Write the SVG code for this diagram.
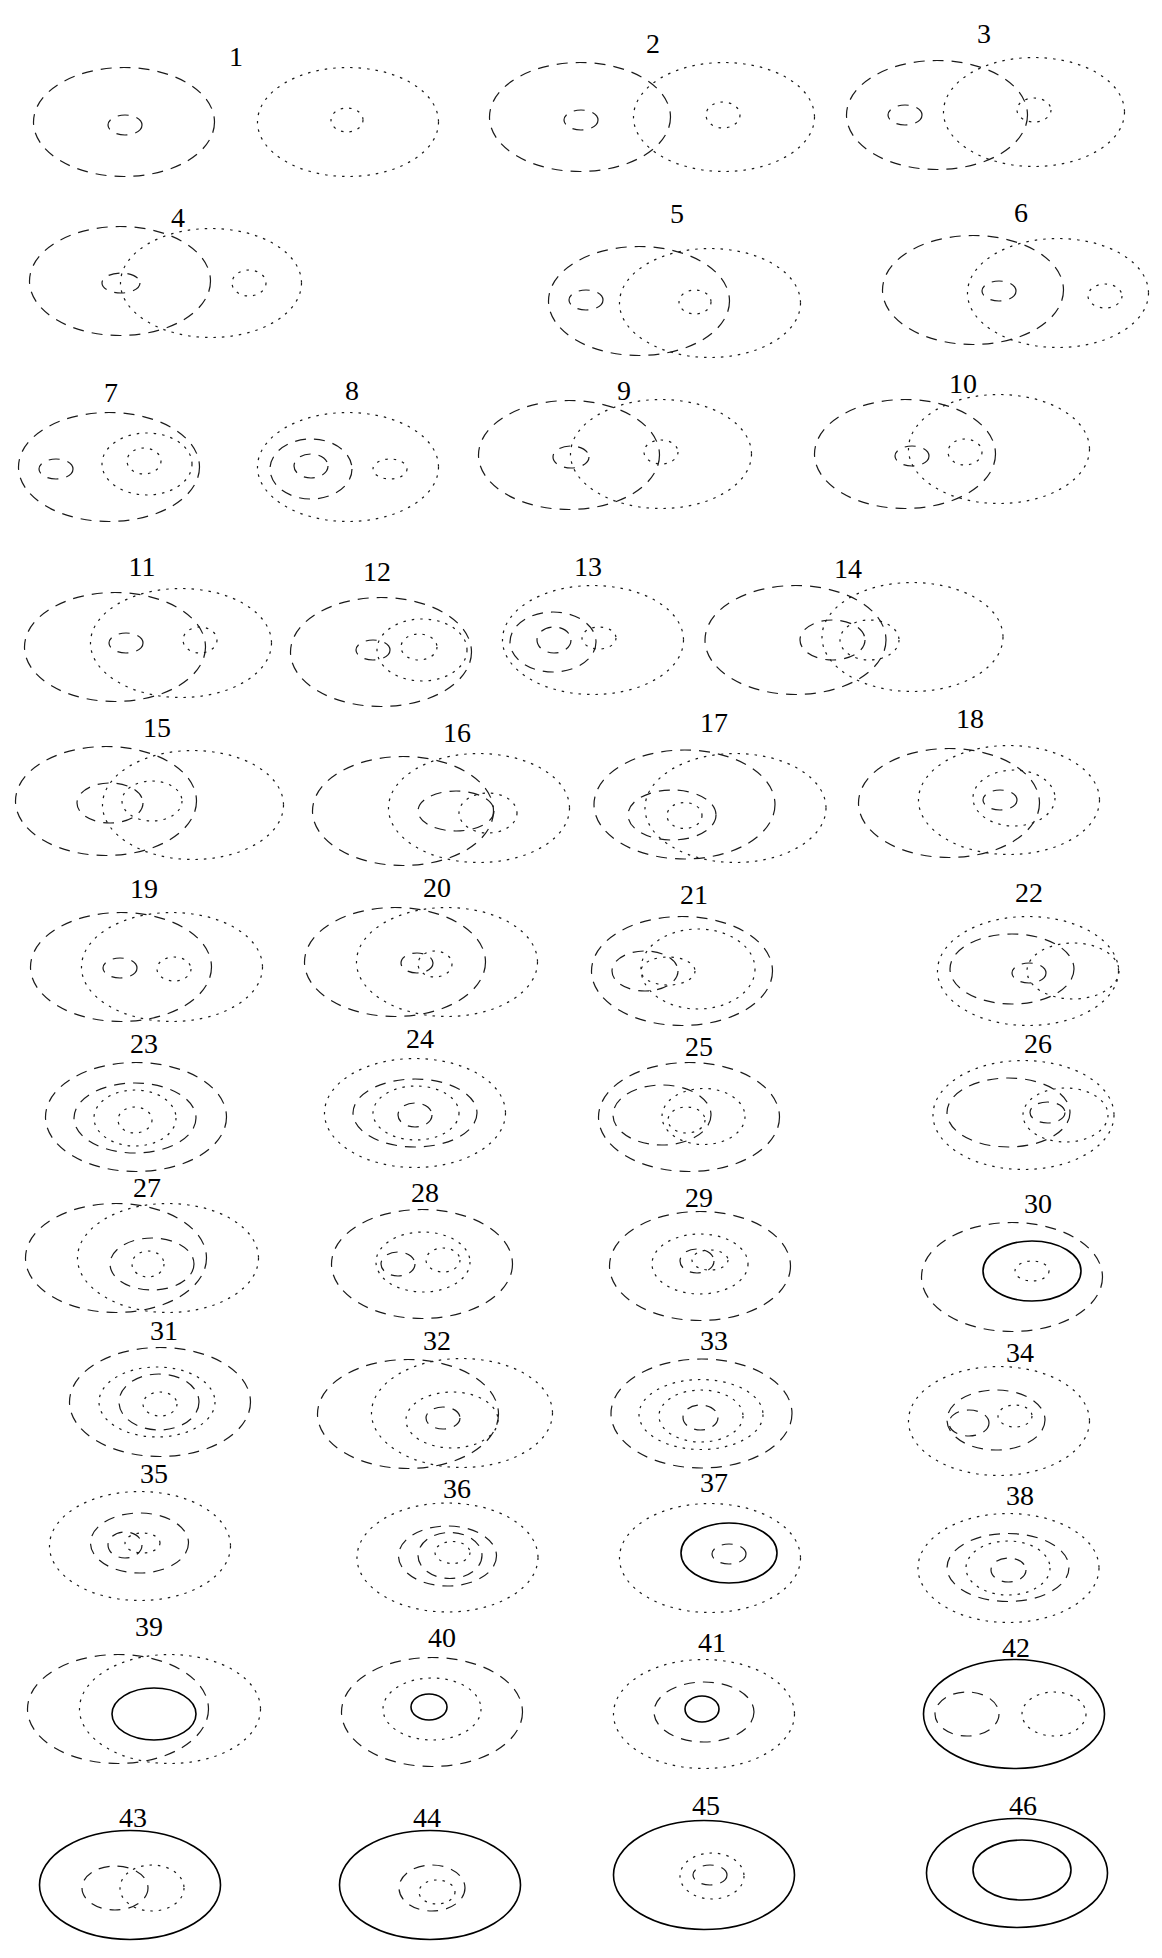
<svg xmlns="http://www.w3.org/2000/svg" width="1162" height="1958" viewBox="0 0 1162 1958">
<style>
ellipse{fill:none;stroke:#1a1a1a;stroke-width:1.2}
.d{stroke-dasharray:11,8}
.t{stroke-dasharray:2.5,6}
.s{stroke:#000;stroke-width:1.6}
text{font-family:"Liberation Serif","Times New Roman",serif;font-size:28px;text-anchor:middle;fill:#000}
</style>
<rect width="1162" height="1958" fill="#fff"/>
<g id="d1"><text x="236" y="66">1</text>
<ellipse class="d" cx="124" cy="122" rx="90.5" ry="54.5"/><ellipse class="d" cx="125" cy="125" rx="17" ry="10"/>
<ellipse class="t" cx="348" cy="122" rx="90.5" ry="54.5"/><ellipse class="t" cx="347" cy="120" rx="16" ry="12"/></g>
<g id="d2"><text x="653" y="53">2</text>
<ellipse class="d" cx="580" cy="117" rx="90.5" ry="54.5"/><ellipse class="d" cx="581" cy="120" rx="17" ry="10"/>
<ellipse class="t" cx="724" cy="117" rx="90.5" ry="54.5"/><ellipse class="t" cx="723" cy="115" rx="17" ry="13"/></g>
<g id="d3"><text x="984" y="43">3</text>
<ellipse class="d" cx="937" cy="115" rx="90.5" ry="54.5"/><ellipse class="d" cx="905" cy="115" rx="17" ry="10"/>
<ellipse class="t" cx="1034" cy="112" rx="90.5" ry="54.5"/><ellipse class="t" cx="1034" cy="110" rx="17" ry="12"/></g>
<g id="d4"><text x="178" y="227">4</text>
<ellipse class="d" cx="120" cy="281" rx="90.5" ry="54.5"/><ellipse class="d" cx="121" cy="283" rx="19" ry="10"/>
<ellipse class="t" cx="211" cy="283" rx="90.5" ry="54.5"/><ellipse class="t" cx="249" cy="283" rx="17" ry="13"/></g>
<g id="d5"><text x="677" y="223">5</text>
<ellipse class="d" cx="639" cy="301" rx="90.5" ry="54.5"/><ellipse class="d" cx="586" cy="300" rx="17" ry="10"/>
<ellipse class="t" cx="710" cy="303" rx="90.5" ry="54.5"/><ellipse class="t" cx="695" cy="302" rx="16" ry="12"/></g>
<g id="d6"><text x="1021" y="222">6</text>
<ellipse class="d" cx="973" cy="290" rx="90.5" ry="54.5"/><ellipse class="d" cx="999" cy="291" rx="17" ry="10"/>
<ellipse class="t" cx="1058" cy="293" rx="90.5" ry="54.5"/><ellipse class="t" cx="1105" cy="296" rx="17" ry="12"/></g>
<g id="d7"><text x="111" y="402">7</text>
<ellipse class="d" cx="109" cy="467" rx="90.5" ry="54.5"/><ellipse class="d" cx="56" cy="469" rx="17" ry="10"/>
<ellipse class="t" cx="147" cy="464" rx="45" ry="31"/><ellipse class="t" cx="144" cy="461" rx="17" ry="13"/></g>
<g id="d8"><text x="352" y="400">8</text>
<ellipse class="t" cx="348" cy="467" rx="90.5" ry="54.5"/><ellipse class="d" cx="311" cy="469" rx="41" ry="30"/>
<ellipse class="d" cx="311" cy="466" rx="17" ry="12"/><ellipse class="t" cx="390" cy="469" rx="17" ry="10"/></g>
<g id="d9"><text x="624" y="400">9</text>
<ellipse class="d" cx="569" cy="455" rx="90.5" ry="54.5"/><ellipse class="t" cx="661" cy="454" rx="90.5" ry="54.5"/>
<ellipse class="d" cx="571" cy="457" rx="18" ry="11"/><ellipse class="t" cx="661" cy="452" rx="17" ry="12"/></g>
<g id="d10"><text x="963" y="393">10</text>
<ellipse class="d" cx="905" cy="454" rx="90.5" ry="54.5"/><ellipse class="t" cx="999" cy="449" rx="90.5" ry="54.5"/>
<ellipse class="d" cx="912" cy="456" rx="17" ry="10"/><ellipse class="t" cx="965" cy="452" rx="17" ry="13"/></g>
<g id="d11"><text x="142" y="576">11</text>
<ellipse class="d" cx="115" cy="647" rx="90.5" ry="54.5"/><ellipse class="t" cx="181" cy="643" rx="90.5" ry="54.5"/>
<ellipse class="d" cx="126" cy="643" rx="17" ry="10"/><ellipse class="t" cx="200" cy="640" rx="17" ry="13"/></g>
<g id="d12"><text x="377" y="581">12</text>
<ellipse class="d" cx="381" cy="652" rx="90.5" ry="54.5"/><ellipse class="t" cx="422" cy="650" rx="45" ry="31"/>
<ellipse class="d" cx="373" cy="650" rx="17" ry="10"/><ellipse class="t" cx="419" cy="647" rx="18" ry="13"/></g>
<g id="d13"><text x="588" y="576">13</text>
<ellipse class="t" cx="593" cy="640" rx="90.5" ry="54.5"/><ellipse class="d" cx="553" cy="642" rx="43" ry="30"/>
<ellipse class="d" cx="554" cy="640" rx="17" ry="13"/><ellipse class="t" cx="599" cy="638" rx="17" ry="11"/></g>
<g id="d14"><text x="848" y="578">14</text>
<ellipse class="d" cx="795.5" cy="640" rx="90.5" ry="54.5"/><ellipse class="t" cx="912.5" cy="637" rx="90.5" ry="54.5"/>
<ellipse class="d" cx="832.5" cy="640" rx="32.5" ry="20"/><ellipse class="t" cx="869.5" cy="640" rx="29.5" ry="20"/></g>
<g id="d15"><text x="157" y="737">15</text>
<ellipse class="d" cx="106" cy="801" rx="90.5" ry="54.5"/><ellipse class="t" cx="193" cy="805" rx="90.5" ry="54.5"/>
<ellipse class="d" cx="110" cy="803" rx="33" ry="20"/><ellipse class="t" cx="152" cy="801" rx="30" ry="20"/></g>
<g id="d16"><text x="457" y="742">16</text>
<ellipse class="d" cx="403" cy="811" rx="90.5" ry="54.5"/><ellipse class="t" cx="479" cy="808" rx="90.5" ry="54.5"/>
<ellipse class="d" cx="456" cy="811" rx="38" ry="20"/><ellipse class="t" cx="488" cy="813" rx="29" ry="20"/></g>
<g id="d17"><text x="714" y="732">17</text>
<ellipse class="d" cx="684.5" cy="804.5" rx="90.5" ry="54.5"/><ellipse class="t" cx="735.5" cy="808" rx="90.5" ry="54.5"/>
<ellipse class="d" cx="672" cy="815" rx="44" ry="25"/><ellipse class="t" cx="684.5" cy="815.5" rx="17.5" ry="13"/></g>
<g id="d18"><text x="970" y="728">18</text>
<ellipse class="d" cx="949" cy="803" rx="90.5" ry="54.5"/><ellipse class="t" cx="1009" cy="800" rx="90.5" ry="54.5"/>
<ellipse class="t" cx="1014" cy="798" rx="41" ry="28"/><ellipse class="d" cx="1000" cy="800" rx="17" ry="10"/></g>
<g id="d19"><text x="144" y="898">19</text>
<ellipse class="d" cx="121" cy="967" rx="90.5" ry="54.5"/><ellipse class="t" cx="172" cy="967" rx="90.5" ry="54.5"/>
<ellipse class="d" cx="120" cy="968" rx="17" ry="10"/><ellipse class="t" cx="174" cy="969" rx="17" ry="12"/></g>
<g id="d20"><text x="437" y="897">20</text>
<ellipse class="d" cx="395" cy="962" rx="90.5" ry="54.5"/><ellipse class="t" cx="447" cy="962" rx="90.5" ry="54.5"/>
<ellipse class="d" cx="417" cy="963" rx="16" ry="10"/><ellipse class="t" cx="435" cy="964" rx="17" ry="13"/></g>
<g id="d21"><text x="694" y="904">21</text>
<ellipse class="d" cx="682" cy="971" rx="90.5" ry="54.5"/><ellipse class="t" cx="698" cy="969" rx="57" ry="40"/>
<ellipse class="d" cx="645" cy="971" rx="33" ry="20"/><ellipse class="t" cx="668" cy="971" rx="27" ry="14"/></g>
<g id="d22"><text x="1029" y="902">22</text>
<ellipse class="t" cx="1028" cy="971" rx="90.5" ry="54.5"/><ellipse class="d" cx="1012" cy="969" rx="62" ry="35"/>
<ellipse class="t" cx="1073" cy="971" rx="46" ry="28"/><ellipse class="d" cx="1029" cy="973" rx="17" ry="10"/></g>
<g id="d23"><text x="144" y="1053">23</text>
<ellipse class="d" cx="136" cy="1117" rx="90.5" ry="54.5"/><ellipse class="d" cx="135" cy="1118" rx="61" ry="35"/>
<ellipse class="t" cx="135" cy="1118" rx="41" ry="28"/><ellipse class="t" cx="135" cy="1120" rx="17" ry="13"/></g>
<g id="d24"><text x="420" y="1048">24</text>
<ellipse class="t" cx="415" cy="1113" rx="90.5" ry="54.5"/><ellipse class="d" cx="415" cy="1113" rx="62" ry="34"/>
<ellipse class="t" cx="416" cy="1113" rx="43" ry="27"/><ellipse class="d" cx="415" cy="1115" rx="17" ry="12"/></g>
<g id="d25"><text x="699" y="1056">25</text>
<ellipse class="d" cx="689" cy="1117" rx="90.5" ry="54.5"/><ellipse class="d" cx="662" cy="1115" rx="49" ry="30"/>
<ellipse class="t" cx="703.5" cy="1116.5" rx="41.5" ry="28"/><ellipse class="t" cx="686.5" cy="1120" rx="18.5" ry="13"/></g>
<g id="d26"><text x="1038" y="1053">26</text>
<ellipse class="t" cx="1023.5" cy="1115" rx="90.5" ry="54.5"/><ellipse class="d" cx="1008.5" cy="1112.5" rx="61.5" ry="34.5"/>
<ellipse class="t" cx="1065.5" cy="1115" rx="42.5" ry="27"/><ellipse class="d" cx="1047.5" cy="1112.5" rx="17.5" ry="10.5"/></g>
<g id="d27"><text x="147" y="1197">27</text>
<ellipse class="d" cx="116" cy="1258" rx="90.5" ry="54.5"/><ellipse class="t" cx="168" cy="1258" rx="90.5" ry="54.5"/>
<ellipse class="d" cx="152" cy="1264" rx="42" ry="26"/><ellipse class="t" cx="148" cy="1264" rx="16" ry="13"/></g>
<g id="d28"><text x="425" y="1202">28</text>
<ellipse class="d" cx="422" cy="1264" rx="90.5" ry="54.5"/><ellipse class="t" cx="423" cy="1262" rx="47" ry="30"/>
<ellipse class="d" cx="398" cy="1264" rx="17" ry="12"/><ellipse class="t" cx="443" cy="1260" rx="17" ry="12"/></g>
<g id="d29"><text x="699" y="1207">29</text>
<ellipse class="d" cx="700" cy="1266" rx="90.5" ry="54.5"/><ellipse class="t" cx="700" cy="1264" rx="48" ry="30"/>
<ellipse class="d" cx="697" cy="1261" rx="17" ry="12"/><ellipse class="t" cx="710" cy="1260" rx="18" ry="10"/></g>
<g id="d30"><text x="1038" y="1213">30</text>
<ellipse class="d" cx="1012" cy="1277" rx="90.5" ry="54.5"/><ellipse class="s" cx="1032" cy="1271" rx="49" ry="30"/>
<ellipse class="t" cx="1032" cy="1271" rx="17" ry="10"/></g>
<g id="d31"><text x="164" y="1340">31</text>
<ellipse class="d" cx="160" cy="1402" rx="90.5" ry="54.5"/><ellipse class="t" cx="157" cy="1402" rx="58" ry="35"/>
<ellipse class="d" cx="159" cy="1402" rx="40" ry="28"/><ellipse class="t" cx="160" cy="1404" rx="17" ry="12"/></g>
<g id="d32"><text x="437" y="1350">32</text>
<ellipse class="d" cx="408" cy="1414" rx="90.5" ry="54.5"/><ellipse class="t" cx="462" cy="1413" rx="90.5" ry="54.5"/>
<ellipse class="t" cx="452" cy="1420" rx="46" ry="28"/><ellipse class="d" cx="443" cy="1418" rx="17" ry="11"/></g>
<g id="d33"><text x="714" y="1350">33</text>
<ellipse class="d" cx="701.5" cy="1413.5" rx="90.5" ry="54.5"/><ellipse class="t" cx="701" cy="1414.5" rx="62" ry="35"/>
<ellipse class="t" cx="701" cy="1416" rx="42" ry="26"/><ellipse class="d" cx="700.5" cy="1417.5" rx="17.5" ry="12.5"/></g>
<g id="d34"><text x="1020" y="1362">34</text>
<ellipse class="t" cx="999" cy="1421" rx="90.5" ry="54.5"/><ellipse class="d" cx="996" cy="1420" rx="49" ry="30"/>
<ellipse class="d" cx="969" cy="1423" rx="20" ry="13"/><ellipse class="t" cx="1015" cy="1416" rx="17" ry="11"/></g>
<g id="d35"><text x="154" y="1483">35</text>
<ellipse class="t" cx="140" cy="1546" rx="90.5" ry="54.5"/><ellipse class="d" cx="139.5" cy="1543" rx="49" ry="30"/>
<ellipse class="d" cx="125" cy="1545" rx="17" ry="13"/><ellipse class="t" cx="142.5" cy="1543" rx="17.5" ry="10"/></g>
<g id="d36"><text x="457" y="1498">36</text>
<ellipse class="t" cx="447.5" cy="1557.5" rx="90.5" ry="54.5"/><ellipse class="d" cx="447.5" cy="1556" rx="49" ry="30"/>
<ellipse class="d" cx="450" cy="1555.5" rx="32" ry="23"/><ellipse class="t" cx="452.5" cy="1552.5" rx="17.5" ry="11"/></g>
<g id="d37"><text x="714" y="1492">37</text>
<ellipse class="t" cx="710" cy="1558" rx="90.5" ry="54.5"/><ellipse class="s" cx="729" cy="1553" rx="48" ry="30"/>
<ellipse class="d" cx="729" cy="1554" rx="17" ry="10"/></g>
<g id="d38"><text x="1020" y="1505">38</text>
<ellipse class="t" cx="1008.5" cy="1568" rx="90.5" ry="54.5"/><ellipse class="d" cx="1008" cy="1567.5" rx="61" ry="34"/>
<ellipse class="t" cx="1008" cy="1568" rx="42" ry="27"/><ellipse class="d" cx="1008.5" cy="1570" rx="17.5" ry="12"/></g>
<g id="d39"><text x="149" y="1636">39</text>
<ellipse class="d" cx="118" cy="1709" rx="90.5" ry="54.5"/><ellipse class="t" cx="170" cy="1709" rx="90.5" ry="54.5"/>
<ellipse class="s" cx="154" cy="1714" rx="42" ry="26"/></g>
<g id="d40"><text x="442" y="1647">40</text>
<ellipse class="d" cx="432" cy="1712" rx="90.5" ry="54.5"/><ellipse class="t" cx="432" cy="1709" rx="49" ry="31"/>
<ellipse class="s" cx="429" cy="1707" rx="18" ry="13"/></g>
<g id="d41"><text x="712" y="1652">41</text>
<ellipse class="t" cx="704" cy="1714" rx="90.5" ry="54.5"/><ellipse class="d" cx="704" cy="1712" rx="50" ry="30"/>
<ellipse class="s" cx="702" cy="1709" rx="17" ry="13"/></g>
<g id="d42"><text x="1016" y="1657">42</text>
<ellipse class="s" cx="1014" cy="1714" rx="90.5" ry="54.5"/><ellipse class="d" cx="967" cy="1714" rx="32" ry="22"/>
<ellipse class="t" cx="1054" cy="1714" rx="32" ry="22"/></g>
<g id="d43"><text x="133" y="1827">43</text>
<ellipse class="s" cx="130" cy="1885" rx="90.5" ry="54.5"/><ellipse class="d" cx="115" cy="1888" rx="33" ry="22"/>
<ellipse class="t" cx="152" cy="1888" rx="32" ry="23"/></g>
<g id="d44"><text x="427" y="1827">44</text>
<ellipse class="s" cx="430" cy="1885" rx="90.5" ry="54.5"/><ellipse class="d" cx="432" cy="1888" rx="33" ry="23"/>
<ellipse class="t" cx="437" cy="1892" rx="18" ry="12"/></g>
<g id="d45"><text x="706" y="1815">45</text>
<ellipse class="s" cx="704" cy="1875" rx="90.5" ry="54.5"/><ellipse class="t" cx="712" cy="1876" rx="32" ry="23"/>
<ellipse class="d" cx="710" cy="1875" rx="17" ry="10"/></g>
<g id="d46"><text x="1023" y="1815">46</text>
<ellipse class="s" cx="1017" cy="1873" rx="90.5" ry="54.5"/><ellipse class="s" cx="1022" cy="1870" rx="49" ry="30"/></g>
<g id="connectors"/>
</svg>
